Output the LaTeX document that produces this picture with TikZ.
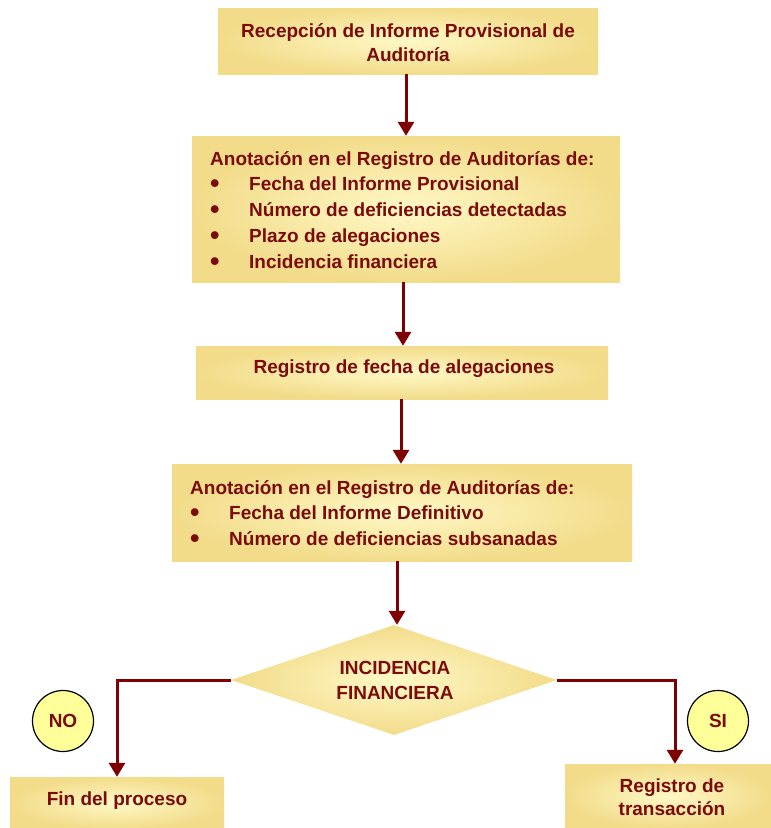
\documentclass[tikz,border=0pt]{standalone}
\usepackage{fontspec}
\setmainfont{Liberation Sans}
\usetikzlibrary{shapes.geometric,arrows.meta}
\definecolor{txt}{HTML}{7A0C0C}
\definecolor{arrc}{HTML}{7F0000}
\definecolor{boxin}{HTML}{FFF8C6}
\definecolor{boxout}{HTML}{F2DC8A}
\definecolor{circ}{HTML}{FFFF99}
\tikzset{
  box/.style={rectangle, inner sep=0pt, inner color=boxin, outer color=boxout},
  lbl/.style={inner sep=0pt, text=txt, font=\fontsize{19}{24}\selectfont\bfseries, anchor=base},
  lblleft/.style={inner sep=0pt, text=txt, font=\fontsize{19}{24}\selectfont\bfseries, anchor=base west},
  arr/.style={draw=arrc, line width=3pt, -{Triangle[width=16pt,length=14pt]}},
  badge/.style={circle, draw=black, line width=1.2pt, fill=circ, minimum size=61pt, inner sep=0pt, text=txt, font=\fontsize{19}{22}\selectfont\bfseries}
}
\newcommand{\bul}{\makebox[39pt][l]{\raisebox{-2.3pt}{\fontsize{27}{27}\selectfont\textbullet}}}
\begin{document}
\begin{tikzpicture}[x=1pt,y=-1pt]
\useasboundingbox (0,0) rectangle (771,828);
% boxes
\node[box, minimum width=380pt, minimum height=66pt] (b1) at (408,41) {};
\node[lbl] (t1a) at (408,37) {Recepción de Informe Provisional de};
\node[lbl] (t1b) at (408,61) {Auditoría};
\node[box, minimum width=428pt, minimum height=146pt] (b2) at (406,209) {};
\node[lblleft] (t2a) at (210,165) {Anotación en el Registro de Auditorías de:};
\node[lblleft] (t2b) at (210,190.5) {\bul Fecha del Informe Provisional};
\node[lblleft] (t2c) at (210,216) {\bul Número de deficiencias detectadas};
\node[lblleft] (t2d) at (210,242) {\bul Plazo de alegaciones};
\node[lblleft] (t2e) at (210,268) {\bul Incidencia financiera};
\node[box, minimum width=412pt, minimum height=53pt] (b3) at (402,372.5) {};
\node[lbl] (t3) at (404,373) {Registro de fecha de alegaciones};
\node[box, minimum width=460pt, minimum height=97pt] (b4) at (402,512.5) {};
\node[lblleft] (t4a) at (190,494) {Anotación en el Registro de Auditorías de:};
\node[lblleft] (t4b) at (190,519.5) {\bul Fecha del Informe Definitivo};
\node[lblleft] (t4c) at (190,545) {\bul Número de deficiencias subsanadas};
\node[diamond, aspect=3, inner sep=0pt, minimum width=326pt, minimum height=110pt, inner color=boxin, outer color=boxout] (d) at (394,680) {};
\node[lbl] (tda) at (395,674) {INCIDENCIA};
\node[lbl] (tdb) at (395,699) {FINANCIERA};
\node[box, minimum width=214pt, minimum height=52pt] (b5) at (117,803) {};
\node[lbl] (t5) at (117,805) {Fin del proceso};
\node[box, minimum width=206pt, minimum height=64pt] (b6) at (668,796) {};
\node[lbl] (t6a) at (672,792) {Registro de};
\node[lbl] (t6b) at (672,815) {transacción};
\node[badge] (no) at (63,721) {NO};
\node[badge] (si) at (718,721) {SI};
% connectors
\draw[arr] (b2.north |- b1.south) -- (b2.north);
\draw[arr] ([xshift=-3pt]b2.south) -- ([xshift=-3pt]b2.south |- b3.north);
\draw[arr] ([xshift=-1pt]b3.south) -- ([xshift=-1pt]b3.south |- b4.north);
\draw[arr] ([xshift=-5pt]b4.south) -- ([xshift=-5pt]b4.south |- d.north);
\coordinate (rt) at ([xshift=7pt]b6.north);
\draw[arr] (d.west) -| (b5.north);
\draw[arr] (d.east) -| (rt);
\end{tikzpicture}
\end{document}
